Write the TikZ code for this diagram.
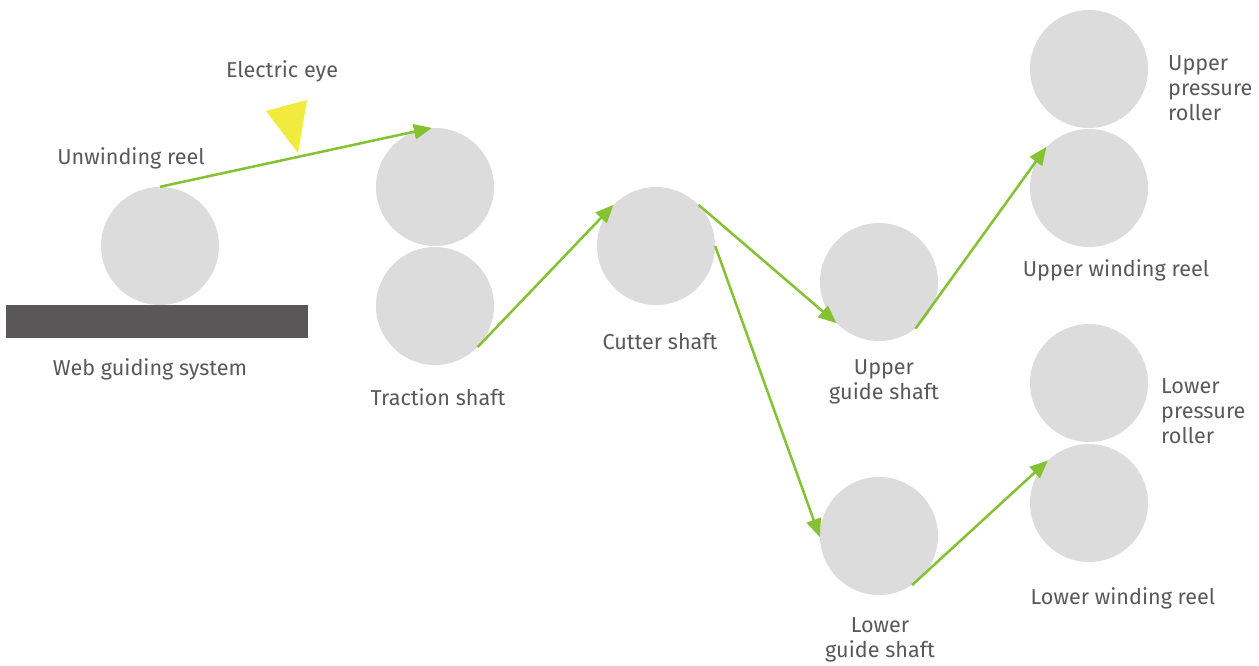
\documentclass[tikz,border=0pt]{standalone}
\usepackage{fontspec}
\setmainfont{Fira Sans}
\usetikzlibrary{arrows.meta}
\definecolor{rollgray}{HTML}{DCDCDC}
\definecolor{bargray}{HTML}{5A5758}
\definecolor{webgreen}{HTML}{84C231}
\definecolor{eyeyellow}{HTML}{F0EB3C}
\definecolor{txtgray}{HTML}{595959}
\begin{document}
\begin{tikzpicture}[x=1pt,y=-1pt,
  roll/.style={circle,fill=rollgray,inner sep=0pt,minimum size=118pt},
  web/.style={draw=webgreen,line width=2.5pt,-{Triangle[length=18pt,width=15pt]}},
  lbl/.style={text=txtgray,font=\fontsize{21.6}{25}\selectfont,inner sep=0pt,align=center},
  lbll/.style={lbl,align=left,anchor=west}]
\useasboundingbox (0,0) rectangle (1259,666);
\fill[white] (0,0) rectangle (1259,666);
% bar
\fill[bargray] (6,305) rectangle (308,338);
% rollers
\node[roll] (unw) at (160,246) {};
\node[roll] (tu) at (435,187) {};
\node[roll] (tl) at (435,306) {};
\node[roll] (cut) at (656,246) {};
\node[roll] (ug) at (879,282) {};
\node[roll] (lg) at (879,536) {};
\node[roll] (upr) at (1089,69) {};
\node[roll] (uwr) at (1089,188) {};
\node[roll] (lpr) at (1089,383) {};
\node[roll] (lwr) at (1089,503) {};
% electric eye
\fill[eyeyellow] (266,111) -- (307,100) -- (298,153) -- cycle;
% web path
\draw[web] (unw.north) -- (tu.93);
\draw[web] (tl.-44) -- (cut.136);
\draw[web] (cut.44) -- (ug.224);
\draw[web] (cut.0) -- (lg.181);
\draw[web] (ug.-52) -- (uwr.136);
\draw[web] (lg.-56) -- (lwr.134);
% labels
\node[lbl] (leye) at (282,71) {Electric eye};
\node[lbl] (lunw) at (131,158) {Unwinding reel};
\node[lbl] (lweb) at (150,369) {Web guiding system};
\node[lbl] (ltr) at (438,397) {Traction shaft};
\node[lbl] (lcut) at (660,342) {Cutter shaft};
\node[lbl] (lug) at (884,382) {Upper\\guide shaft};
\node[lbll] (lupr) at (1168,88) {Upper\\pressure\\roller};
\node[lbl] (luwr) at (1116,270) {Upper winding reel};
\node[lbll] (llpr) at (1161,411) {Lower\\pressure\\roller};
\node[lbl] (llwr) at (1123,598) {Lower winding reel};
\node[lbl] (llg) at (880,640) {Lower\\guide shaft};
\end{tikzpicture}
\end{document}
